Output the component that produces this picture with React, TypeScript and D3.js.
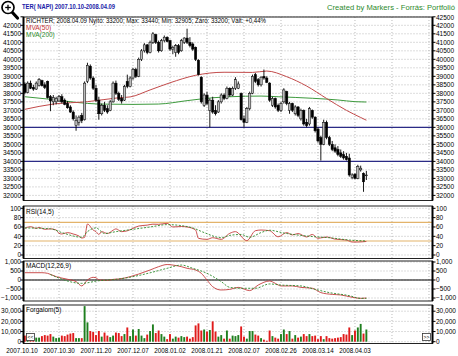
import React from 'react';
import * as d3 from 'd3';

const dateLabels = ['2007.10.10','2007.10.30','2007.11.20','2007.12.07','2008.01.02','2008.01.21','2008.02.07','2008.02.26','2008.03.14','2008.04.03'];

const opens = [38550,38050,38600,38350,38250,38450,38750,38500,38700,37800,37500,37500,37550,37800,37600,37400,37200,36900,36100,36300,36700,36450,38700,39600,38900,38300,37600,36800,37300,37100,37000,37500,38600,38000,37700,37600,38700,38400,38900,39400,39000,40000,40500,40850,40400,41000,41450,41000,40500,41100,41300,41100,40600,40400,40800,40500,41000,41250,41000,40900,40700,39950,38950,37300,37900,37000,37600,37000,36900,37500,37900,37700,38300,37900,38300,38300,38000,36500,36300,37100,38000,39100,38800,38500,39000,38900,38600,37300,37700,37300,37000,37500,38100,37000,37400,36800,37200,36500,37000,36300,36200,37000,36600,35900,35400,35000,36300,35400,35000,34800,34700,34500,34400,34300,34200,33050,33250,33000,33500,33300,33200];
const highs = [38650,38700,38750,38500,38700,38900,38800,38650,38750,37900,37900,37800,37900,37950,37700,37550,37300,37000,36700,36700,36850,38700,39800,39700,39000,38500,37800,37400,37500,37300,37600,38700,38750,38100,37900,38500,39100,39000,39500,39500,40100,40600,40950,40900,41100,41600,41500,41100,41200,41400,41350,41150,40800,40900,40900,41200,41300,41800,41300,41000,40750,40000,39000,38000,38100,37700,37800,37300,37600,38000,38000,38400,38350,38400,38950,38700,38050,36700,37200,38100,39100,39200,38900,39000,39400,39000,38650,37800,37750,37400,37500,38300,38150,37500,37450,37300,37250,37100,37050,36500,37200,37050,36650,36000,35500,36450,36400,35500,35200,35000,34900,34700,34600,34500,34450,33300,33300,33800,33750,33350,33440];
const lows = [37950,38000,38250,38150,38200,38400,38400,38250,37700,36950,37300,37350,37500,37400,37300,37100,36850,36400,35800,36100,36250,36400,38600,38800,38200,37500,36450,36700,36900,36800,36950,37450,37900,37550,37400,37550,38300,38350,38800,38900,38950,39900,40400,40300,40350,40900,40900,40400,40450,41000,41000,40500,40300,40150,40300,40450,40900,40900,40700,40500,39900,39050,37400,37200,37300,36000,36800,36700,36850,37400,37600,37650,37800,37850,38200,38250,36400,36000,36250,37000,37950,38600,38400,38400,38800,38600,37500,37200,37100,36900,36900,37400,37300,36800,36900,36700,36600,36400,36100,36000,36100,36500,35700,35100,34050,34950,35300,34900,34600,34500,34300,34200,34100,34050,33100,32950,32950,32950,33400,32210,32905];
const closes = [38050,38600,38300,38250,38600,38800,38450,38350,37750,37550,37750,37700,37800,37500,37350,37150,36900,36500,36400,36600,36400,38600,39650,38900,38300,37600,36800,37300,37000,36900,37500,38600,38000,37650,37550,38400,38400,38900,39400,39000,40000,40500,40850,40400,41000,41500,41000,40500,41100,41300,41050,40600,40700,40800,40400,41100,41250,41000,40800,40600,40000,39100,37500,37900,37400,37600,36900,36800,37500,37900,37700,38300,37900,38300,38800,38550,36450,36300,37100,38000,39000,38700,38500,38950,38900,38650,37600,37700,37200,37000,37400,38200,37400,37400,37000,37200,36700,37000,36200,36100,37100,36600,35800,35200,35000,36300,35400,35000,34700,34600,34400,34300,34200,34100,33200,33200,33000,33700,33600,32800,33200];
const volumes = [6000,5000,7000,5000,4000,4000,5500,6500,6000,7500,5000,3500,4000,6000,5500,7000,8000,8500,3500,3500,3500,35000,19000,10500,9500,6500,10500,5000,9000,6000,4500,6000,9000,8500,5500,7500,14000,5500,12000,6000,12500,6000,3500,7000,10500,17000,8500,11000,7500,5000,2500,7500,3000,5000,4000,5500,4500,5000,3000,4500,16000,18000,11000,12000,10000,11500,20000,10000,5000,6500,3000,11000,3000,6000,5500,6500,15000,5000,3000,10500,10500,7000,6000,3500,2000,1000,11000,5500,4000,3000,7500,12000,7500,10500,3000,6500,4000,5000,7500,5500,7500,5500,6000,2500,5500,2500,5500,3500,3000,3500,4000,4500,7500,7000,14000,6500,11000,14000,17500,8000,12000];

const mva50Idx = [0,10,22,33,37,44,51,60,70,80,85,92,99,106,113,118,120];
const mva50Val = [37060,37370,37510,37740,37790,38200,38620,39060,39240,39230,39310,38980,38430,37700,37000,36580,36420];
const mva200Idx = [0,9,18,26,38,47,57,66,72,83,89,101,110,116,120];
const mva200Val = [37800,37650,37470,37370,37350,37370,37570,37740,37800,37840,37800,37710,37610,37510,37490];

const rsiIdx = [0,2,4,5,7,9,11,12,13,15,17,19,20,21,22,24,25,26,27,29,31,32,34,36,38,40,43,45,47,50,52,55,57,60,61,64,66,69,72,74,78,81,83,86,89,92,94,96,99,101,103,106,109,113,115,117,120];
const rsiVal = [57,60.6,57,59,55,56,53.5,46.4,45,48,45,40.7,36.4,37.8,66.4,53.5,50,44,50,46,53,56,50,51.8,57,62,64,66,65.7,67.8,60,61,60,53.5,35.7,33.5,37,33.5,46.4,50,30.7,52,53.5,52,39,48,43,46,38.6,44,35.7,38.6,34,32,27.8,27.8,29];
const rsiSigIdx = [0,9,13,20,22,25,28,32,38,44,50,56,59,63,69,72,76,79,83,86,91,97,102,107,114,120];
const rsiSigVal = [58,56,48,38,50,58,46,50,55,60,65,62,58,48,37,42,44,38,48,53,47,42,39,37,32,30];

const macdIdx = [0,6,8,11,15,18,20,22,24,25,26,29,31,33,37,40,44,47,50,52,55,57,60,62,64,66,69,72,75,79,82,86,88,90,94,97,101,104,108,111,115,118,120];
const macdVal = [405,405,370,185,40,-90,-330,0,150,130,0,-20,35,55,185,330,555,740,860,830,740,650,555,370,0,-370,-555,-520,-410,-590,-280,-55,-185,-330,-330,-410,-460,-700,-800,-830,-960,-1020,-1000];
const macdSigIdx = [9,20,26,32,38,44,50,55,59,64,69,72,76,81,86,90,97,102,107,114,118,120];
const macdSigVal = [300,-185,-40,35,185,400,650,830,650,370,-90,-410,-460,-460,-220,-280,-330,-520,-700,-870,-1020,-1020];

const mainTicks = d3.range(32000, 42501, 500);
const rsiTicks = [0, 20, 40, 60, 80, 100];
const rsiBands = [70, 30];
const macdTicks = [-1000, -500, 0, 500, 1000];
const volTicks = [0, 10000, 20000, 30000];
const supportLevels = [36000, 34000];

const FONT = 'Liberation Sans, Arial, sans-serif';
const XL = 23.5, XR = 432.5;
const main = { top: 17, bottom: 200.5 };
const rsiP = { top: 206, bottom: 258.5 };
const macdP = { top: 261, bottom: 301 };
const volP = { top: 305, bottom: 343.5 };

const x = d3.scaleLinear().domain([-1, 120]).range([22, 22 + 121 * 2.846]);
const yMain = d3.scaleLinear().domain([31700, 42500]).range([200.5, 16.8]);
const yRsi = d3.scaleLinear().domain([0, 100]).range([255, 208.3]);
const yMacd = d3.scaleLinear().domain([-1000, 1000]).range([298, 262]);
const yVol = d3.scaleLinear().domain([0, 30000]).range([341.7, 311.2]);

const gridIdx = d3.range(0, 12).map(k => -1 + 13 * k);
const fmtComma = d3.format(',');

function Panel({ p, ticks, y, fmt }: any) {
  return (
    <g>
      {gridIdx.slice(1).map((g, k) => (
        <line key={'v' + k} x1={x(g)} x2={x(g)} y1={p.top} y2={p.bottom} stroke="#a8a8a8" strokeWidth={0.8} strokeDasharray="1,2" />
      ))}
      {ticks.map((t: number) => (
        <g key={t}>
          <line x1={XL} x2={XR} y1={y(t)} y2={y(t)} stroke="#a8a8a8" strokeWidth={0.8} strokeDasharray="1,2" />
          <line x1={XL - 3} x2={XL} y1={y(t)} y2={y(t)} stroke="#000" strokeWidth={1} />
          <line x1={XR} x2={XR + 3} y1={y(t)} y2={y(t)} stroke="#000" strokeWidth={1} />
          <text x={XL - 2.5} y={y(t)} dy="0.35em" textAnchor="end" fontSize={6.5} fontFamily={FONT}>{fmt(t)}</text>
          <text x={XR + 3.5} y={y(t)} dy="0.35em" textAnchor="start" fontSize={6.5} fontFamily={FONT}>{fmt(t)}</text>
        </g>
      ))}
    </g>
  );
}

function Frame({ p }: any) {
  return (
    <g>
      <rect x={XL} y={p.top} width={XR - XL} height={p.bottom - p.top} fill="none" stroke="#222" strokeWidth={1} />
      <line x1={XL} x2={XL} y1={p.top} y2={p.bottom} stroke="#000" strokeWidth={2} />
      <line x1={XR} x2={XR} y1={p.top} y2={p.bottom} stroke="#000" strokeWidth={2} />
    </g>
  );
}

export default function App() {
  const mk = (idx: number[], val: number[], ys: any) =>
    d3.line<number>().x(i => x(idx[i])).y(i => ys(val[i])).curve(d3.curveMonotoneX)(idx.map((_, i) => i)) || '';
  const mva50Line = mk(mva50Idx, mva50Val, yMain);
  const mva200Line = mk(mva200Idx, mva200Val, yMain);
  const rsiLine = mk(rsiIdx, rsiVal, yRsi);
  const rsiSigLine = mk(rsiSigIdx, rsiSigVal, yRsi);
  const macdLine = mk(macdIdx, macdVal, yMacd);
  const macdSigLine = mk(macdSigIdx, macdSigVal, yMacd);
  const bw = 2.3;

  return (
    <svg width={458} height={356} style={{ position: 'absolute', left: 0, top: 0, background: '#fff' }} fontFamily={FONT}>
      <rect x={0} y={0} width={458} height={356} fill="#fff" />
      <g>
        <line x1={11.5} y1={11.5} x2={17.5} y2={18} stroke="#000" strokeWidth={3.2} strokeLinecap="round" />
        <circle cx={8} cy={7.5} r={6} fill="#fff" stroke="#000" strokeWidth={1.7} />
        <line x1={5.2} x2={10.8} y1={7.5} y2={7.5} stroke="#000" strokeWidth={1.3} />
        <line x1={8} x2={8} y1={4.7} y2={10.3} stroke="#000" strokeWidth={1.3} />
      </g>
      <text x={22} y={9} fontSize={7} fontWeight="bold" fill="#1c1ca8" textLength={93} lengthAdjust="spacingAndGlyphs">TER( NAPI)  2007.10.10-2008.04.09</text>
      <text x={455} y={9.5} fontSize={6.5} fill="#2d8a2d" textAnchor="end" textLength={128} lengthAdjust="spacingAndGlyphs">Created by Markers - Forrás: Portfolió</text>

      <Panel p={main} ticks={mainTicks} y={yMain} fmt={(t: number) => (t === 42500 ? '' : String(t))} />
      <text x={XR + 3.5} y={yMain(42500) + 1} dy="0.35em" fontSize={6.5}>42500</text>
      {supportLevels.map(s => (
        <line key={s} x1={XL} x2={XR} y1={yMain(s)} y2={yMain(s)} stroke="#2b2b86" strokeWidth={1.2} />
      ))}
      <path d={mva200Line} fill="none" stroke="#3d9a3d" strokeWidth={1} />
      <path d={mva50Line} fill="none" stroke="#c24a4a" strokeWidth={1} />
      {closes.map((c, i) => {
        const o = opens[i];
        const up = c >= o;
        const top = yMain(Math.max(o, c));
        const bot = yMain(Math.min(o, c));
        return (
          <g key={i}>
            <line x1={x(i)} x2={x(i)} y1={yMain(highs[i])} y2={yMain(lows[i])} stroke="#000" strokeWidth={0.9} />
            <rect x={x(i) - bw / 2} y={top} width={bw} height={Math.max(bot - top, 0.8)} fill={up ? '#bcbcbc' : '#000'} stroke="#000" strokeWidth={0.5} />
          </g>
        );
      })}
      <Frame p={main} />
      <text x={26} y={23} fontSize={6.5} fill="#000" textLength={240} lengthAdjust="spacingAndGlyphs">RICHTER; 2008.04.09 Nyitó: 33200; Max: 33440; Min: 32905; Záró: 33200; Vált: +0,44%</text>
      <text x={26} y={30} fontSize={6.5} fill="#c03030">MVA(50)</text>
      <text x={26} y={36.5} fontSize={6.5} fill="#2a8a2a">MVA(200)</text>

      <Panel p={rsiP} ticks={rsiTicks} y={yRsi} fmt={(t: number) => String(t)} />
      {rsiBands.map(b => (
        <line key={b} x1={XL} x2={XR} y1={yRsi(b)} y2={yRsi(b)} stroke="#e3b36a" strokeWidth={1.2} />
      ))}
      <path d={rsiLine} fill="none" stroke="#c43c3c" strokeWidth={0.9} />
      <path d={rsiSigLine} fill="none" stroke="#2a8a2a" strokeWidth={0.9} strokeDasharray="2,1.5" />
      <Frame p={rsiP} />
      <text x={26} y={213.5} fontSize={6.5}>RSI(14,5)</text>

      <Panel p={macdP} ticks={macdTicks} y={yMacd} fmt={(t: number) => fmtComma(t)} />
      <line x1={XL} x2={XR} y1={yMacd(0)} y2={yMacd(0)} stroke="#000" strokeWidth={1} />
      <path d={macdLine} fill="none" stroke="#c43c3c" strokeWidth={0.9} />
      <path d={macdSigLine} fill="none" stroke="#2a8a2a" strokeWidth={0.9} strokeDasharray="2,1.5" />
      <Frame p={macdP} />
      <text x={26} y={268} fontSize={6.5}>MACD(12,26,9)</text>

      <Panel p={volP} ticks={volTicks} y={yVol} fmt={(t: number) => fmtComma(t)} />
      {volumes.map((v, i) => (
        <rect key={i} x={x(i) - 0.95} y={yVol(v)} width={1.9} height={yVol(0) - yVol(v)} fill={closes[i] >= opens[i] ? '#1f7f1f' : '#e01b1b'} />
      ))}
      <Frame p={volP} />
      <text x={26} y={312} fontSize={6.5}>Forgalom(5)</text>
      <g>
        <rect x={26.5} y={333.5} width={8} height={7} fill="#fff" stroke="#333" strokeWidth={0.8} />
        <text x={30.5} y={339} fontSize={5} textAnchor="middle">&lt;&lt;</text>
        <rect x={422.5} y={333.5} width={8} height={7} fill="#fff" stroke="#333" strokeWidth={0.8} />
        <text x={426.5} y={339} fontSize={5} textAnchor="middle">&gt;&gt;</text>
      </g>

      {dateLabels.map((d, k) => (
        <text key={d} x={x(gridIdx[k])} y={353} fontSize={6.3} textAnchor="middle">{d}</text>
      ))}
    </svg>
  );
}
